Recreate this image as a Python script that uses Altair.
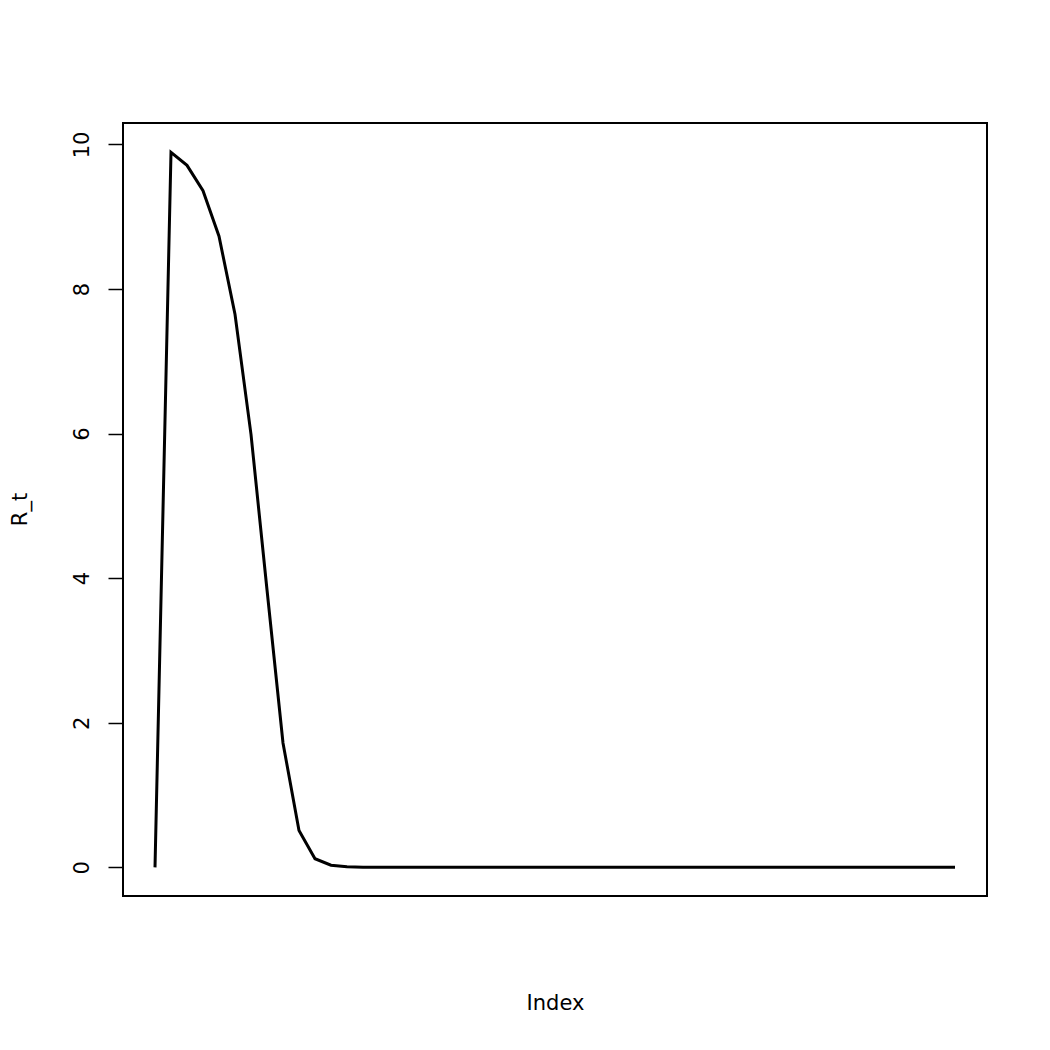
import altair as alt
import pandas as pd

index = list(range(1, 52))
r_t = [0.0, 9.89, 9.71, 9.36, 8.73, 7.65, 5.99, 3.84, 1.72, 0.51,
       0.12, 0.03, 0.01, 0.003, 0.001, 0.0005, 0.0002, 0.0001, 0.0, 0.0,
       0.0, 0.0, 0.0, 0.0, 0.0, 0.0, 0.0, 0.0, 0.0, 0.0,
       0.0, 0.0, 0.0, 0.0, 0.0, 0.0, 0.0, 0.0, 0.0, 0.0,
       0.0, 0.0, 0.0, 0.0, 0.0, 0.0, 0.0, 0.0, 0.0, 0.0,
       0.0]
y_ticks = [0, 2, 4, 6, 8, 10]

df = pd.DataFrame({"Index": index, "R_t": r_t})

font = "DejaVu Sans"

chart = alt.Chart(df).mark_line(color="black", strokeWidth=3).encode(
    x=alt.X("Index:Q",
            scale=alt.Scale(domain=[-1, 53], nice=False, zero=False),
            axis=alt.Axis(title="Index", labels=False, ticks=False, domain=False,
                          grid=False, titleFont=font, titleFontSize=21,
                          titleFontWeight="normal", titleColor="black",
                          titlePadding=96)),
    y=alt.Y("R_t:Q",
            scale=alt.Scale(domain=[-0.396, 10.296], nice=False, zero=False),
            axis=alt.Axis(title="R_t", values=y_ticks, grid=False, domain=False,
                          tickSize=15, tickColor="black", tickWidth=1.5,
                          labelAngle=-90, labelAlign="center",
                          labelBaseline="alphabetic", labelPadding=20,
                          labelFont=font, labelFontSize=21, labelColor="black",
                          titleFont=font, titleFontSize=21, titleFontWeight="normal",
                          titleColor="black", titleAngle=-90,
                          titleBaseline="alphabetic", titleAlign="center",
                          titleX=-97, titleY=386)),
).properties(
    width=864, height=773,
    background="white",
    autosize=alt.AutoSizeParams(type="none"),
    padding={"left": 115, "top": 115, "right": 40, "bottom": 140},
).configure_view(
    stroke="black", strokeWidth=2
)

chart.save("out.html", embed_options={"renderer": "svg", "actions": False})
